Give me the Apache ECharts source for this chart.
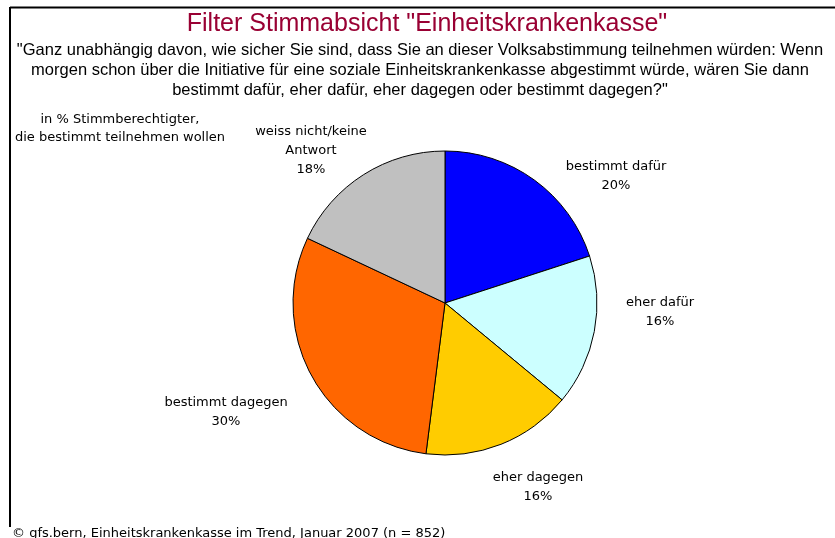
<!DOCTYPE html>
<html>
<head>
<meta charset="UTF-8">
<title>Filter Stimmabsicht</title>
<script src="https://cdn.jsdelivr.net/npm/echarts@6/dist/echarts.min.js"></script>
<style>
html, body { margin: 0; padding: 0; background: #fff; }
#main { width: 835px; height: 538px; }
</style>
</head>
<body>
<div id="main"></div>
<script type="text/javascript">
// Kategorien und Werte (in %)
var categories = ['bestimmt dafür', 'eher dafür', 'eher dagegen', 'bestimmt dagegen', 'weiss nicht/keine\nAntwort'];
var values = [20, 16, 16, 30, 18];
var colors = ['#0000ff', '#ccffff', '#ffcc00', '#ff6600', '#c0c0c0'];
// Lage der Beschriftungen (wie im Excel-Original)
var labelPos = [[616, 176], [660, 312], [538, 487], [226, 412], [311, 151]];

var chart = echarts.init(document.getElementById('main'));
var font = 'DejaVu Sans';
var narrow = '"Liberation Sans Narrow", "Liberation Sans", sans-serif';

var option = {
    backgroundColor: '#fff',
    animation: false,
    title: [
        {
            text: 'Filter Stimmabsicht "Einheitskrankenkasse"',
            left: 427,
            top: 12,
            textAlign: 'center',
            padding: 0,
            textStyle: { color: '#990033', fontSize: 25, fontWeight: 'normal', fontFamily: narrow }
        },
        {
            text: '"Ganz unabhängig davon, wie sicher Sie sind, dass Sie an dieser Volksabstimmung teilnehmen würden: Wenn\nmorgen schon über die Initiative für eine soziale Einheitskrankenkasse abgestimmt würde, wären Sie dann\nbestimmt dafür, eher dafür, eher dagegen oder bestimmt dagegen?"',
            left: 420,
            top: 40,
            textAlign: 'center',
            padding: 0,
            textStyle: { color: '#000', fontSize: 16.5, fontWeight: 'normal', fontFamily: '"Liberation Sans", sans-serif', lineHeight: 20, align: 'center' }
        },
        {
            text: 'in % Stimmberechtigter,\ndie bestimmt teilnehmen wollen',
            left: 120,
            top: 111,
            textAlign: 'center',
            padding: 0,
            textStyle: { color: '#000', fontSize: 13, fontWeight: 'normal', fontFamily: font, lineHeight: 18, align: 'center' }
        },
        {
            text: '© gfs.bern, Einheitskrankenkasse im Trend, Januar 2007 (n = 852)',
            left: 12,
            top: 527,
            padding: 0,
            textStyle: { color: '#000', fontSize: 13, fontWeight: 'normal', fontFamily: font }
        }
    ],
    graphic: [
        { type: 'line', shape: { x1: 10, y1: 7.5, x2: 835, y2: 7.5 }, style: { stroke: '#000', lineWidth: 2 } },
        { type: 'line', shape: { x1: 10, y1: 7, x2: 10, y2: 527 }, style: { stroke: '#000', lineWidth: 2 } }
    ],
    series: [{
        type: 'pie',
        center: [445, 303],
        radius: 152,
        startAngle: 90,
        clockwise: true,
        color: colors,
        itemStyle: { borderColor: '#000', borderWidth: 1 },
        label: {
            show: true,
            formatter: '{b}\n{c}%',
            color: '#000',
            fontSize: 13,
            fontFamily: font,
            lineHeight: 19,
            align: 'center'
        },
        labelLine: { show: false },
        labelLayout: function (params) {
            var p = labelPos[params.dataIndex];
            return { x: p[0], y: p[1], align: 'center', verticalAlign: 'middle' };
        },
        emphasis: { disabled: true },
        data: categories.map(function (c, i) {
            return { name: c, value: values[i] };
        })
    }]
};
chart.setOption(option);
</script>
</body>
</html>
